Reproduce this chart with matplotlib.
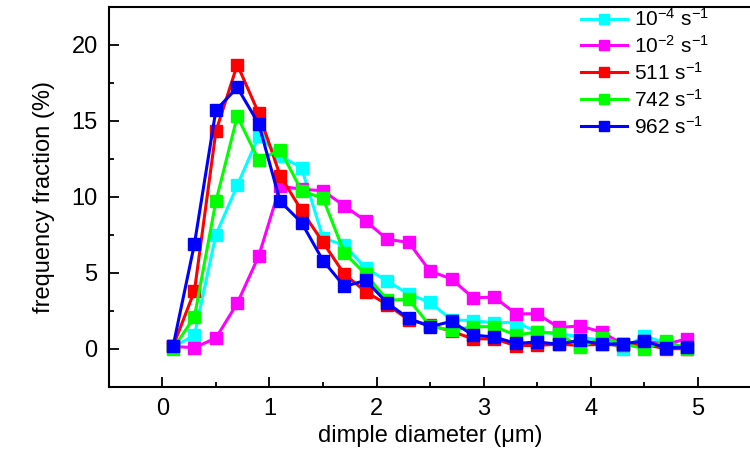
import matplotlib
matplotlib.use('Agg')
import matplotlib.pyplot as plt
from matplotlib.ticker import MultipleLocator

plt.rcParams['font.family'] = ['Liberation Sans', 'DejaVu Sans']
plt.rcParams['mathtext.fontset'] = 'custom'
plt.rcParams['mathtext.rm'] = 'Liberation Sans'
plt.rcParams['mathtext.it'] = 'Liberation Sans'

# dimple diameter bin centres (um)
diameter = [0.1, 0.3, 0.5, 0.7, 0.9, 1.1, 1.3, 1.5, 1.7, 1.9, 2.1, 2.3, 2.5,
            2.7, 2.9, 3.1, 3.3, 3.5, 3.7, 3.9, 4.1, 4.3, 4.5, 4.7, 4.9]

# frequency fraction (%) for each strain rate
rate_1e4 = [0.1, 0.9, 7.5, 10.75, 14.0, 12.7, 11.9, 7.3, 6.8, 5.3, 4.45, 3.6, 3.05,
            1.9, 1.85, 1.7, 1.75, 1.1, 1.0, 0.77, 0.55, 0.0, 0.85, 0.37, 0.1]
rate_1e2 = [0.15, 0.07, 0.7, 3.0, 6.1, 10.7, 10.5, 10.4, 9.4, 8.4, 7.2, 7.0, 5.1,
            4.6, 3.35, 3.4, 2.3, 2.3, 1.4, 1.5, 1.1, 0.3, 0.5, 0.3, 0.65]
rate_511 = [0.15, 3.8, 14.3, 18.7, 15.5, 11.4, 9.1, 7.0, 4.9, 3.75, 2.9, 1.9, 1.55,
            1.15, 0.65, 0.65, 0.2, 0.22, 0.3, 0.22, 0.3, 0.22, 0.28, 0.0, 0.0]
rate_742 = [0.0, 2.1, 9.7, 15.3, 12.4, 13.1, 10.4, 9.9, 6.3, 4.9, 3.2, 3.25, 1.5,
            1.2, 1.45, 1.45, 0.9, 1.1, 1.0, 0.1, 0.7, 0.33, 0.0, 0.5, 0.0]
rate_962 = [0.15, 6.9, 15.7, 17.2, 14.8, 9.7, 8.3, 5.8, 4.1, 4.5, 3.0, 2.0, 1.45,
            1.8, 0.9, 0.77, 0.35, 0.44, 0.3, 0.55, 0.3, 0.33, 0.5, 0.07, 0.1]

labels = [r'10$^{\mathregular{-4}}$ s$^{\mathregular{-1}}$',
          r'10$^{\mathregular{-2}}$ s$^{\mathregular{-1}}$',
          r'511 s$^{\mathregular{-1}}$',
          r'742 s$^{\mathregular{-1}}$',
          r'962 s$^{\mathregular{-1}}$']
colors = ['#00FFFF', '#FF00FF', '#FF0000', '#00FF00', '#0000FF']
series = [rate_1e4, rate_1e2, rate_511, rate_742, rate_962]

fig = plt.figure(figsize=(7.5, 4.62), dpi=100)
ax = fig.add_axes([0.145, 0.163, 0.857, 0.822])

for y, c, lab in zip(series, colors, labels):
    ax.plot(diameter, y, color=c, lw=2.2, marker='s', ms=8.2, mec=c, mfc=c, label=lab)

ax.set_xlim(-0.5, 5.5)
ax.set_ylim(-2.5, 22.5)
ax.xaxis.set_major_locator(MultipleLocator(1))
ax.xaxis.set_minor_locator(MultipleLocator(0.5))
ax.yaxis.set_major_locator(MultipleLocator(5))
ax.yaxis.set_minor_locator(MultipleLocator(2.5))
ax.tick_params(which='both', direction='in', top=False, right=False, width=1.3, labelsize=17)
ax.tick_params(which='major', length=7.5, pad=8)
ax.tick_params(which='minor', length=3.5)
for s in ax.spines.values():
    s.set_linewidth(1.5)

ax.set_xlabel('dimple diameter (μm)', fontsize=17, labelpad=4)
ax.set_ylabel('frequency fraction (%)', fontsize=17, labelpad=12)

ax.legend(loc='upper left', bbox_to_anchor=(0.733, 1.0), frameon=False, fontsize=15,
          handlelength=2.2, handletextpad=0.35, labelspacing=0.24, markerscale=0.8,
          borderaxespad=0.0, borderpad=0.05)

fig.savefig('out.png', dpi=100)
